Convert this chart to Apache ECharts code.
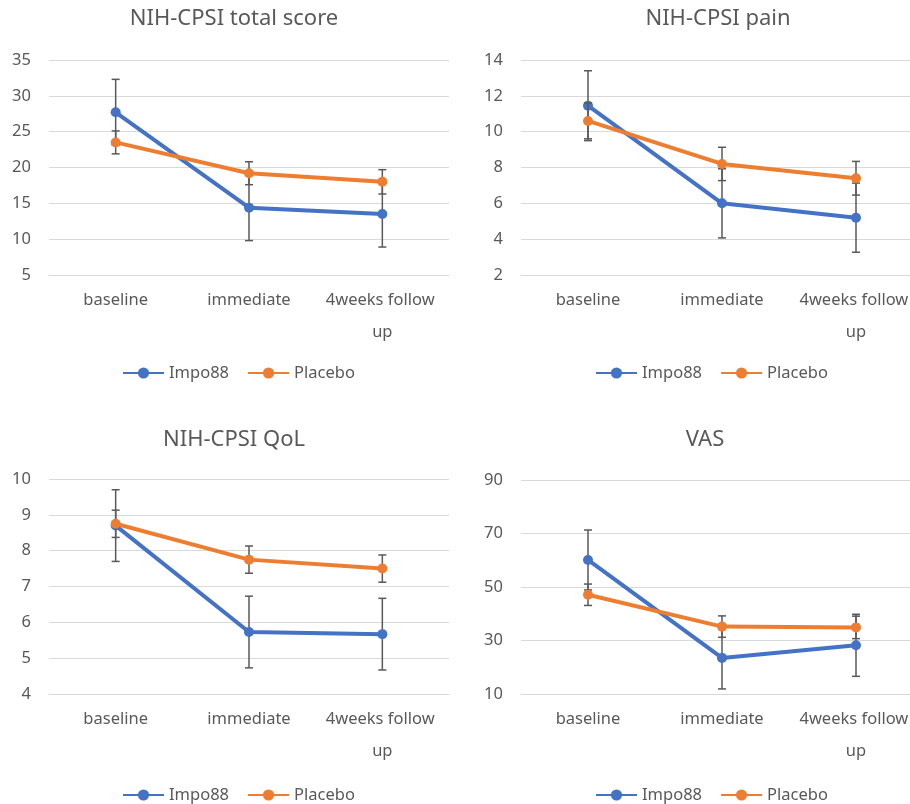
<!DOCTYPE html>
<html>
<head>
<meta charset="utf-8">
<script src="https://cdn.jsdelivr.net/npm/echarts@6/dist/echarts.min.js"></script>
<style>
html,body{margin:0;padding:0;background:#fff;}
#c{width:910px;height:804px;}
</style>
</head>
<body>
<div id="c"></div>
<script>
const categories = ['baseline', 'immediate', '4weeks follow up'];
const seriesNames = ['Impo88', 'Placebo'];
const panelTitles = ['NIH-CPSI total score', 'NIH-CPSI pain', 'NIH-CPSI QoL', 'VAS'];

const totalImpo = [27.7, 14.4, 13.5];
const totalImpoErr = [4.6, 4.6, 4.6];
const totalPlac = [23.5, 19.2, 18.0];
const totalPlacErr = [1.6, 1.6, 1.7];

const painImpo = [11.45, 6.0, 5.2];
const painImpoErr = [1.95, 1.93, 1.93];
const painPlac = [10.6, 8.2, 7.4];
const painPlacErr = [1.0, 0.93, 0.94];

const qolImpo = [8.7, 5.73, 5.67];
const qolImpoErr = [1.0, 1.0, 1.0];
const qolPlac = [8.75, 7.75, 7.5];
const qolPlacErr = [0.38, 0.38, 0.38];

const vasImpo = [60.1, 23.5, 28.2];
const vasImpoErr = [11.2, 11.6, 11.6];
const vasPlac = [47.1, 35.2, 34.9];
const vasPlacErr = [4.0, 4.0, 4.2];

const yMins = [5, 2, 4, 10];
const yMaxs = [35, 14, 10, 90];
const yTicks = [
  [5, 10, 15, 20, 25, 30, 35],
  [2, 4, 6, 8, 10, 12, 14],
  [4, 5, 6, 7, 8, 9, 10],
  [10, 30, 50, 70, 90]
];

const panels = [
  {impo: totalImpo, impoErr: totalImpoErr, plac: totalPlac, placErr: totalPlacErr},
  {impo: painImpo, impoErr: painImpoErr, plac: painPlac, placErr: painPlacErr},
  {impo: qolImpo, impoErr: qolImpoErr, plac: qolPlac, placErr: qolPlacErr},
  {impo: vasImpo, impoErr: vasImpoErr, plac: vasPlac, placErr: vasPlacErr}
];

const FONT = 'Noto Sans';
const TXT = '#595959';
const GRIDC = '#D9D9D9';
const BLUE = '#4472C4';
const ORANGE = '#ED7D31';
const ERRC = '#595959';

const layout = [
  {left: 49, width: 400, top: 60, height: 215, titleX: 234, titleY: 19, legendLeft: 117, legendTop: 359},
  {left: 521, width: 402, top: 60, height: 215, titleX: 718, titleY: 19, legendLeft: 590, legendTop: 359},
  {left: 49, width: 400, top: 479, height: 215, titleX: 234, titleY: 440, legendLeft: 117, legendTop: 781},
  {left: 521, width: 402, top: 480, height: 214, titleX: 705, titleY: 440, legendLeft: 590, legendTop: 781}
];

function errRender(params, api) {
  const x = api.value(0);
  const lo = api.coord([x, api.value(1)]);
  const hi = api.coord([x, api.value(2)]);
  const cw = 4;
  const st = {stroke: ERRC, lineWidth: 1.5};
  return {
    type: 'group',
    children: [
      {type: 'line', shape: {x1: lo[0], y1: lo[1], x2: hi[0], y2: hi[1]}, style: st},
      {type: 'line', shape: {x1: lo[0] - cw, y1: lo[1], x2: lo[0] + cw, y2: lo[1]}, style: st},
      {type: 'line', shape: {x1: hi[0] - cw, y1: hi[1], x2: hi[0] + cw, y2: hi[1]}, style: st}
    ]
  };
}

const grids = [], xAxes = [], yAxes = [], series = [], legends = [], graphics = [];
panels.forEach((p, i) => {
  const L = layout[i];
  grids.push({left: L.left, width: L.width, top: L.top, height: L.height,
    containLabel: false, outerBoundsMode: 'none'});
  xAxes.push({
    type: 'category', gridIndex: i, data: categories,
    axisLine: {lineStyle: {color: GRIDC, width: 1}},
    axisTick: {show: false},
    axisLabel: {color: TXT, fontFamily: FONT, fontSize: 16.5, margin: 9, lineHeight: 32,
      width: 128, overflow: 'break', interval: 0}
  });
  yAxes.push({
    type: 'value', gridIndex: i, min: yMins[i], max: yMaxs[i],
    axisLine: {show: false},
    axisTick: {show: false, customValues: yTicks[i]},
    axisLabel: {color: TXT, fontFamily: FONT, fontSize: 16.5, margin: 18, customValues: yTicks[i]},
    splitLine: {lineStyle: {color: GRIDC, width: 1}}
  });
  const groups = [
    {name: seriesNames[0], vals: p.impo, errs: p.impoErr, color: BLUE},
    {name: seriesNames[1], vals: p.plac, errs: p.placErr, color: ORANGE}
  ];
  groups.forEach((g, k) => {
    series.push({
      name: g.name + ' error', type: 'custom', xAxisIndex: i, yAxisIndex: i,
      renderItem: errRender, z: 2 + k * 2, silent: true,
      encode: {x: 0, y: [1, 2]},
      data: g.vals.map((v, j) => [j, v - g.errs[j], v + g.errs[j]])
    });
    series.push({
      name: g.name, type: 'line', xAxisIndex: i, yAxisIndex: i,
      data: g.vals, z: 3 + k * 2,
      symbol: 'circle', symbolSize: 10,
      lineStyle: {color: g.color, width: 4},
      itemStyle: {color: g.color},
      animation: false
    });
  });
  legends.push({
    data: seriesNames, left: L.legendLeft, top: L.legendTop,
    itemWidth: 41, itemHeight: 14, itemGap: 18,
    textStyle: {color: TXT, fontFamily: FONT, fontSize: 16.5, lineHeight: 18}
  });
  graphics.push({
    type: 'text', x: L.titleX, y: L.titleY,
    style: {text: panelTitles[i], fill: TXT, font: '22px "' + FONT + '"', textAlign: 'center', textVerticalAlign: 'middle'}
  });
});

const chart = echarts.init(document.getElementById('c'), null, {renderer: 'canvas'});
chart.setOption({
  animation: false,
  backgroundColor: '#fff',
  grid: grids, xAxis: xAxes, yAxis: yAxes, series: series, legend: legends,
  graphic: graphics
});
</script>
</body>
</html>
